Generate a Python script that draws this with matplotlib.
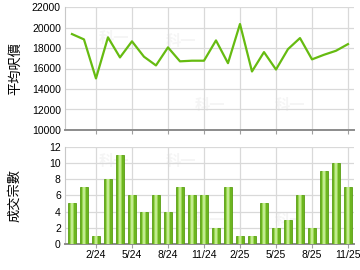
import matplotlib
matplotlib.use("Agg")
import matplotlib.pyplot as plt

# monthly data, 12/23 .. 11/25
months = ['12/23', '1/24', '2/24', '3/24', '4/24', '5/24', '6/24', '7/24', '8/24', '9/24',
          '10/24', '11/24', '12/24', '1/25', '2/25', '3/25', '4/25', '5/25', '6/25', '7/25',
          '8/25', '9/25', '10/25', '11/25']
avg_price = [19360, 18840, 15030, 19040, 17080, 18650, 17150, 16300, 18060, 16700,
             16760, 16760, 18740, 16520, 20340, 15710, 17600, 15900, 17890, 18970,
             16890, 17340, 17730, 18380]
deals = [5, 7, 1, 8, 11, 6, 4, 6, 4, 7, 6, 6, 2, 7, 1, 1, 5, 2, 3, 6, 2, 9, 10, 7]
tick_labels = ['2/24', '5/24', '8/24', '11/24', '2/25', '5/25', '8/25', '11/25']

x = list(range(len(months)))
ticks = [months.index(t) for t in tick_labels]

cjk = ['Noto Sans CJK TC', 'DejaVu Sans']
plt.rcParams['font.family'] = ['Liberation Sans', 'DejaVu Sans']

fig = plt.figure(figsize=(3.6, 2.7), dpi=100)
ax1 = fig.add_axes([65 / 360, 1 - 130 / 270, 289 / 360, 123 / 270])
ax2 = fig.add_axes([65 / 360, 1 - 244 / 270, 289 / 360, 97.3 / 270])

for ax in (ax1, ax2):
    ax.set_xlim(-0.58, 23.5)
    ax.set_xticks(ticks)
    ax.grid(True, color='#d9d9d9', linewidth=0.9)
    ax.set_axisbelow(True)
    for s in ('top', 'right'):
        ax.spines[s].set_visible(False)
    ax.spines['left'].set_color('#c8c8c8')
    ax.spines['bottom'].set_color('#8c8c8c')
    ax.spines['bottom'].set_linewidth(1.4)
    ax.tick_params(axis='y', length=0, labelsize=7.5, pad=3)
    ax.tick_params(axis='x', color='#a0a0a0', length=3, labelsize=7.5, pad=1)

# faint watermarks
for ax, pts in ((ax1, [(0.17, 0.75), (0.5, 0.2), (0.4, 0.72), (0.78, 0.2)]),
                (ax2, [(0.17, 0.85), (0.5, 0.25), (0.4, 0.85), (0.78, 0.25)])):
    for px, py in pts:
        ax.text(px, py, '科一', transform=ax.transAxes, color='#f5f5f5', fontsize=11,
                fontweight='bold', family=cjk, ha='center', va='center', zorder=0)

ax1.plot(x, avg_price, color='#66bb11', linewidth=1.6, zorder=3)
ax1.set_ylim(10000, 22000)
ax1.set_yticks(range(10000, 22001, 2000))
ax1.tick_params(axis='x', labelbottom=False)
ax1.set_ylabel('平均呎價', family=cjk, fontsize=9.5, labelpad=7)

ax2.bar(x, deals, width=0.68, color='#6cb51f', edgecolor='#5a9e14', linewidth=0.6, zorder=3)
ax2.bar(x, deals, width=0.4, color='#9ad653', linewidth=0, zorder=3)
ax2.bar(x, deals, width=0.14, color='#c2eb8f', linewidth=0, zorder=3)
ax2.set_ylim(0, 12)
ax2.set_yticks(range(0, 13, 2))
ax2.set_xticklabels(tick_labels)
ax2.set_ylabel('成交宗數', family=cjk, fontsize=9.5, labelpad=20)

fig.savefig('out.png', dpi=100)
